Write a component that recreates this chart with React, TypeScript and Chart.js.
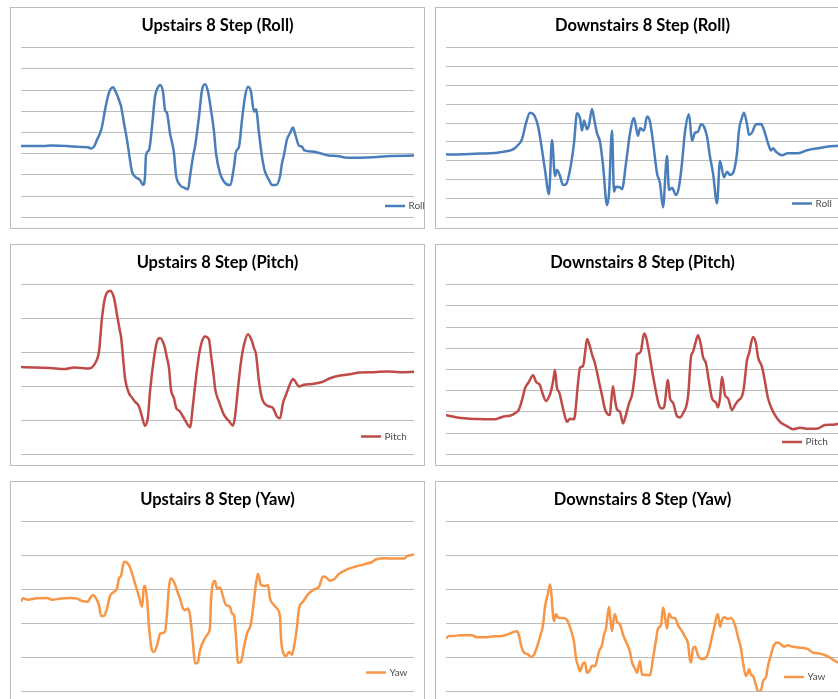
import React, { useEffect, useRef } from 'react';
import { Chart, registerables } from 'chart.js';

Chart.register(...registerables);

// Sample index (x) and sensor reading (y) for each recording.
const upRollT = [0,23,30,46,59,67,70,73,76,79,81,84,88,92,95,98,99,100,103,106,109,111,114,119,122,124,125,128,131,134,137,139,142,144,146,149,153,155,159,163,167,169,172,174,178,181,184,187,190,193,195,199,203,209,213,215,218,221,224,227,230,233,235,238,241,244,248,251,255,259,261,263,266,269,272,274,278,281,283,293,299,308,316,326,339,356,369,393];
const upRoll = [-6.4,-6.4,-6.1,-6.4,-6.8,-7,-7.6,-6.7,-3.5,-0.4,2.7,10.6,18.8,21.3,18.8,15.3,13.8,12.5,4.3,-3.5,-13,-18.5,-20.8,-22.4,-24.8,-20.8,-10.6,-8.3,2.7,16.9,21.3,22.4,19.2,10.6,9.1,-0.4,-9.8,-20,-24.8,-26,-26.8,-20.8,-11.4,-6.7,7.5,20,22.7,19.2,10.6,0.4,-9.8,-19.2,-23.2,-24.8,-16.1,-9.1,-6.7,5.9,16.9,21.6,19.2,9.8,10.9,-0.4,-11.4,-18.5,-22.4,-24.8,-24.8,-20.8,-14.5,-10.6,-3.2,-0.4,2.3,-0.4,-6.2,-6.7,-8.3,-9.1,-9.8,-10.9,-11.1,-11.9,-11.9,-11.6,-11.1,-10.9];

const downRollT = [0,9,19,34,49,56,66,71,76,80,84,88,92,95,99,103,106,109,111,114,117,120,124,128,131,134,136,138,141,143,146,148,151,154,157,161,163,166,168,170,174,176,180,184,188,192,194,198,201,204,207,211,214,217,221,223,226,230,233,236,239,243,246,249,252,255,258,261,264,267,271,274,278,281,284,287,291,293,296,298,301,303,306,310,315,318,322,325,327,330,336,342,352,362,372,382,392];
const downRoll = [-16.6,-16.7,-16.5,-16.2,-15.9,-15.3,-14.3,-12.2,-8.6,-0.1,5.5,4.3,-1.5,-10.7,-24.9,-37.8,-9,-28.1,-24.9,-28.1,-32.9,-32.5,-24.9,-10.7,5.2,2.5,-4,1.3,-3.3,-1,7.5,2.5,-5.4,-9.9,-22.2,-43.5,-37.3,-4,-36.4,-33.8,-34.1,-35.1,-21.3,-5.4,2.7,-6.8,-2.8,-4,3.4,0.7,-9.9,-26.6,-32,-44.7,-17.5,-35.5,-34.3,-38.2,-33.8,-21.3,-4.6,4.7,-9.5,-5.1,-4.6,-0.6,-1.9,-7.2,-17.8,-26.6,-42.6,-20.1,-28.8,-25.8,-27.5,-26.6,-16,-3.7,2.9,5.5,-0.6,-6.3,-5.1,-0.6,-0.5,-3.7,-10.7,-14.6,-13.4,-15.2,-17.1,-16,-16,-14.3,-13.4,-12.5,-12];

const upPitchT = [0,13,29,44,53,68,71,75,78,81,84,89,93,96,99,100,103,104,108,111,114,118,121,124,127,129,133,136,139,143,146,148,150,153,155,159,164,169,172,174,178,181,184,188,190,193,194,198,203,208,212,214,217,220,223,227,231,233,235,238,241,244,248,252,256,259,262,265,269,272,274,278,283,291,301,309,319,329,339,353,366,379,393];
const upPitch = [-4.3,-4.4,-4.6,-4.9,-4.4,-4.7,-4.4,-2.7,0.3,10.2,16.1,18.2,16.1,11.1,6.2,4.7,-4.6,-7.6,-12,-13.3,-14.5,-15.9,-18.9,-21.6,-18.9,-11.5,-1.6,3.3,4.3,2.3,-1.6,-4.6,-11,-13.5,-16.2,-17.4,-19.9,-22,-15.4,-10,-0.7,3.3,4.7,3.8,-0.7,-7.6,-10.5,-14.5,-18.4,-20.2,-21.6,-18.9,-10.5,-2.7,2.3,5.4,3.3,1.3,-0.5,-8.6,-13.5,-15.2,-15.9,-16.4,-18.9,-19.4,-14.9,-12.5,-9.3,-7.8,-8.4,-10,-9.5,-9.3,-8.7,-7.6,-6.8,-6.4,-5.9,-5.8,-5.6,-5.8,-5.7];

const downPitchT = [0,11,21,33,41,49,54,59,64,69,73,76,79,83,87,90,94,96,100,103,105,107,109,111,113,117,121,124,128,129,132,134,137,139,141,144,146,149,153,156,159,164,165,167,169,171,174,177,179,183,186,189,191,193,195,198,200,203,206,210,213,216,218,222,224,227,231,234,237,242,245,247,250,252,255,257,260,263,266,270,272,274,276,279,282,286,289,292,296,298,301,303,307,310,312,316,319,322,326,329,334,341,347,354,362,372,379,386,392];
const downPitch = [-11.6,-12.6,-13.1,-13.4,-13.5,-13.5,-12.8,-12.1,-11.8,-10.7,-8.8,-4.4,1.1,4.2,7.3,4.2,2.6,-0.5,-4.9,-2.9,-0.2,4.2,9.7,1.1,-0.5,-8.4,-14.7,-13.2,-13.5,-11.5,3.4,10.8,11.6,17.5,24.3,20.6,17.1,12.8,4.2,-2.1,-8.8,-11.5,-6,2.1,-4.4,-8.8,-10,-15.4,-13.1,-6,-2.1,8.1,17.1,17.5,18.8,26.9,25.3,18.3,9.7,-0.5,-6.8,-8.4,-7.9,5,-3.6,-5.7,-12,-12.6,-10.7,-2.9,15.9,18.3,23.5,26.1,21.4,15.9,12.8,4.2,-3.6,-5.7,-7.9,-3.6,6.5,-2.1,-3.6,-9.2,-6.8,-4.8,-2.6,1.8,14.4,17.5,25.3,22.2,15.9,11.2,4.2,-3.6,-8.8,-11.5,-14.7,-16.7,-18.2,-17.5,-18,-17.8,-16.2,-16.1,-15.6];

const upYawT = [0,2,6,16,26,31,39,49,56,61,67,69,72,75,78,80,83,86,89,93,96,98,100,103,108,111,114,118,121,123,124,126,128,131,133,137,139,144,146,148,150,154,157,159,162,164,167,169,172,174,177,179,183,187,189,190,194,196,199,202,205,209,211,213,215,217,220,223,226,230,233,235,237,240,244,247,249,253,256,259,260,263,265,268,271,273,276,278,282,287,293,298,302,305,309,313,318,326,334,343,351,356,363,373,383,386,393];
const upYaw = [-3.6,-2.6,-3,-2.6,-2.5,-3,-2.7,-2.5,-2.7,-3.4,-3.6,-2.6,-1.6,-2.6,-4.6,-7.8,-7.8,-5.6,-1.9,-0.7,0.3,3.3,4,8.2,7.2,4.8,1.8,-2.1,-5.1,0.8,1,-2.6,-11,-17.9,-18.4,-15.4,-13,-12.5,-7.1,0.8,3.3,1.5,-1.1,-2.6,-5.6,-6.1,-5.6,-7.6,-15.9,-21.8,-21.3,-17.9,-14.9,-13,-11,-3.1,2.5,0.3,0.6,-2.1,-4.6,-5.1,-7.1,-7.6,-14,-21.6,-21.3,-16.9,-13,-10,-3.1,1.8,4.6,1.3,1,1.3,-2.6,-4.6,-5.6,-8.1,-14.4,-19.2,-19.6,-18.4,-19.2,-16.9,-11,-5.6,-3.6,-1.4,0,0.8,3.8,3.6,2.6,3,4.6,5.9,6.7,7.4,8.1,9,9.2,9.1,9.1,9.8,10.3];

const downYawT = [0,3,8,14,26,31,39,48,56,61,66,71,73,75,78,82,85,88,91,94,97,99,102,104,105,108,110,112,114,118,121,125,128,130,132,134,137,139,141,144,146,149,151,153,156,158,160,163,164,166,168,169,171,174,177,180,184,186,189,191,194,196,199,204,207,210,212,215,217,218,221,223,226,229,232,236,239,242,244,245,247,249,252,256,259,262,266,268,271,272,274,276,278,282,285,289,292,295,297,300,302,303,305,307,310,312,315,317,320,322,325,328,332,335,338,342,347,356,362,367,374,381,386,392];
const downYaw = [-14.4,-13.7,-13.7,-13.5,-13.5,-14.1,-14.1,-13.8,-13.7,-13.3,-12.7,-12.3,-13.5,-16.4,-18.6,-19.1,-19.9,-19.2,-16.9,-14,-10.5,-5.1,-1.1,1.5,-0.2,-9.3,-7.3,-8.2,-8.4,-8.4,-9,-12,-15.4,-20.3,-22.3,-24.1,-21.8,-21.5,-24.6,-23.8,-22.5,-22.6,-20.8,-18.2,-16.4,-13.3,-11.5,-5.1,-7.6,-12.3,-8.1,-7.3,-9.5,-10.3,-13.3,-15.4,-18.4,-21.5,-23.3,-24.6,-21.1,-25.1,-25.1,-25.3,-20.3,-14.9,-11.5,-10.5,-5.4,-6.1,-11.5,-7.1,-8.4,-8.4,-10.5,-12.3,-14,-15.9,-20.8,-21.5,-17.4,-16.9,-19.4,-20.5,-20.3,-18.9,-14,-11.5,-7.6,-7.3,-11,-9,-8.2,-8.7,-8.4,-10.5,-14,-17.4,-21.5,-25.5,-24.3,-23.5,-25.1,-25.5,-28.2,-30,-29.7,-27,-25.8,-22.5,-19.2,-16.4,-15.6,-16.2,-16.9,-16.4,-16.9,-17.2,-17.6,-18.6,-18.9,-19.6,-20.5,-21.6];

const SAMPLE_SPAN = 393;

const ROLL_COLOR = '#4A7EBB';
const PITCH_COLOR = '#BE4B48';
const YAW_COLOR = '#F79646';

const PANEL_W = 415;
const PANEL_H = 222;
const FONT = "Lato, 'Open Sans', 'DejaVu Sans', sans-serif";

type Panel = {
  title: string;
  label: string;
  t: number[];
  v: number[];
  color: string;
  yMin: number;
  yMax: number;
  left: number;
  top: number;
  legendX: number;
  legendY: number;
};

const panels: Panel[] = [
  { title: 'Upstairs 8 Step (Roll)', label: 'Roll', t: upRollT, v: upRoll, color: ROLL_COLOR, yMin: -40, yMax: 40, left: 10, top: 7, legendX: 374, legendY: 198 },
  { title: 'Downstairs 8 Step (Roll)', label: 'Roll', t: downRollT, v: downRoll, color: ROLL_COLOR, yMin: -50, yMax: 40, left: 435, top: 7, legendX: 356, legendY: 195.5 },
  { title: 'Upstairs 8 Step (Pitch)', label: 'Pitch', t: upPitchT, v: upPitch, color: PITCH_COLOR, yMin: -30, yMax: 20, left: 10, top: 244, legendX: 350, legendY: 191.5 },
  { title: 'Downstairs 8 Step (Pitch)', label: 'Pitch', t: downPitchT, v: downPitch, color: PITCH_COLOR, yMin: -30, yMax: 50, left: 435, top: 244, legendX: 346, legendY: 197 },
  { title: 'Upstairs 8 Step (Yaw)', label: 'Yaw', t: upYawT, v: upYaw, color: YAW_COLOR, yMin: -30, yMax: 20, left: 10, top: 481, legendX: 355, legendY: 190.5 },
  { title: 'Downstairs 8 Step (Yaw)', label: 'Yaw', t: downYawT, v: downYaw, color: YAW_COLOR, yMin: -30, yMax: 20, left: 435, top: 481, legendX: 348, legendY: 195 },
];

// Small legend drawn in the lower right of the plot: a line swatch and the series name.
const cornerLegend = {
  id: 'cornerLegend',
  afterDraw(chart: any, _args: any, opts: any) {
    const ctx = chart.ctx;
    const ds = chart.data.datasets[0];
    ctx.save();
    ctx.strokeStyle = ds.borderColor;
    ctx.lineWidth = 2.5;
    ctx.beginPath();
    ctx.moveTo(opts.x, opts.y);
    ctx.lineTo(opts.x + 20, opts.y);
    ctx.stroke();
    ctx.fillStyle = '#4d4d4d';
    ctx.font = `10px ${FONT}`;
    ctx.textBaseline = 'middle';
    ctx.fillText(ds.label, opts.x + 23.5, opts.y);
    ctx.restore();
  },
};

function StepChart({ panel }: { panel: Panel }) {
  const ref = useRef<HTMLCanvasElement>(null);

  useEffect(() => {
    const points = panel.t.map((x, i) => ({ x, y: panel.v[i] }));
    const chart = new Chart(ref.current as HTMLCanvasElement, {
      type: 'line',
      data: {
        datasets: [
          {
            label: panel.label,
            data: points,
            borderColor: panel.color,
            borderWidth: 2.5,
            pointRadius: 0,
            fill: false,
            cubicInterpolationMode: 'monotone',
          },
        ],
      },
      options: {
        animation: false,
        responsive: false,
        events: [],
        layout: { padding: { left: 10, right: 10, top: 0, bottom: 10.7 } },
        plugins: {
          legend: { display: false },
          tooltip: { enabled: false },
          title: {
            display: true,
            text: panel.title,
            color: '#000000',
            font: { family: FONT, size: 16.5, weight: 'bold' },
            padding: { top: 8.2, bottom: 11.6 },
          },
          cornerLegend: { x: panel.legendX, y: panel.legendY },
        } as any,
        scales: {
          x: { type: 'linear', min: 0, max: SAMPLE_SPAN, display: false },
          y: {
            min: panel.yMin,
            max: panel.yMax,
            ticks: { display: false, stepSize: 10 },
            border: { display: false },
            grid: { color: '#bdbdbd', lineWidth: 1, drawTicks: false },
          },
        },
      },
      plugins: [cornerLegend],
    });
    return () => chart.destroy();
  }, [panel]);

  return (
    <div
      style={{
        position: 'absolute',
        left: panel.left,
        top: panel.top,
        width: PANEL_W,
        height: PANEL_H,
        border: '1px solid #bcbcbc',
        boxSizing: 'border-box',
        background: '#ffffff',
      }}
    >
      <canvas ref={ref} width={PANEL_W - 2} height={PANEL_H - 2} style={{ display: 'block' }} />
    </div>
  );
}

export default function App() {
  return (
    <div
      style={{
        position: 'fixed',
        left: 0,
        top: 0,
        width: 838,
        height: 699,
        overflow: 'hidden',
        background: '#ffffff',
      }}
    >
      {panels.map((p) => (
        <StepChart key={p.title} panel={p} />
      ))}
    </div>
  );
}
